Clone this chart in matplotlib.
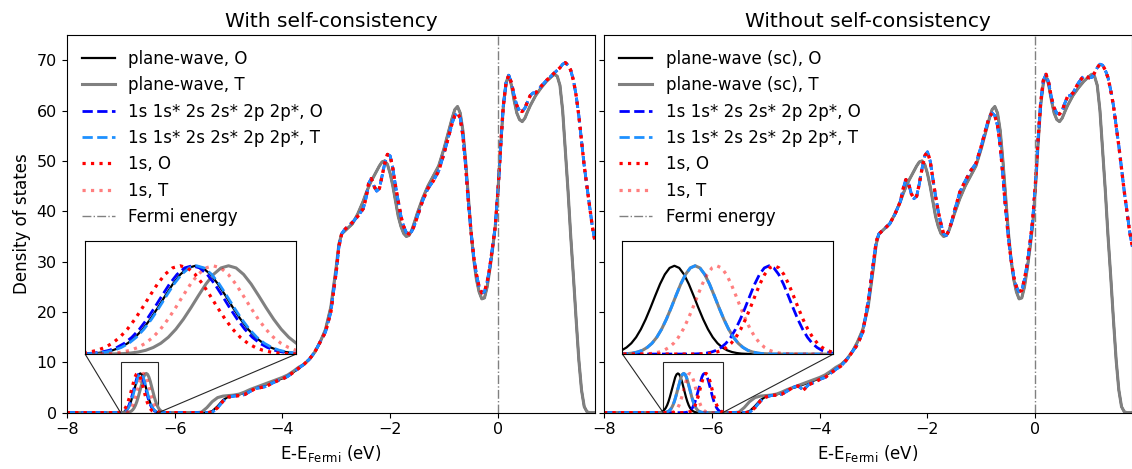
import numpy as np
import matplotlib.pyplot as plt
from mpl_toolkits.axes_grid1.inset_locator import mark_inset

# ---------------- data ----------------
# energy grid of the valence band part (eV, relative to Fermi)
band_E = [-5.6, -5.5, -5.4, -5.3, -5.2, -5.1, -5.0, -4.9, -4.8, -4.7,
          -4.6, -4.5, -4.4, -4.3, -4.2, -4.1, -4.0, -3.9, -3.8, -3.7,
          -3.6, -3.5, -3.4, -3.3, -3.2, -3.1, -3.0, -2.95, -2.9, -2.85,
          -2.8, -2.7, -2.6, -2.5, -2.45, -2.4, -2.35, -2.3, -2.25, -2.2,
          -2.15, -2.1, -2.05, -2.0, -1.95, -1.9, -1.85, -1.8, -1.75, -1.7,
          -1.65, -1.6, -1.55, -1.5, -1.4, -1.3, -1.2, -1.1, -1.0, -0.9,
          -0.85, -0.8, -0.75, -0.7, -0.65, -0.6, -0.55, -0.5, -0.45, -0.4,
          -0.35, -0.3, -0.25, -0.2, -0.15, -0.1, -0.05, 0.0, 0.05, 0.1,
          0.15, 0.2, 0.25, 0.3, 0.35, 0.4, 0.45, 0.5, 0.55, 0.6,
          0.65, 0.7, 0.8, 0.9, 1.0, 1.05, 1.1, 1.15, 1.2, 1.25,
          1.3, 1.35, 1.4, 1.45, 1.5, 1.55, 1.6, 1.65, 1.7, 1.75,
          1.8]

# plane-wave, O
band_pw_O = [0, 0, 0, 0.3, 1.3, 2.5, 3.2, 3.4, 3.6, 4.0,
             4.5, 4.9, 5.2, 5.6, 6.0, 6.4, 6.8, 7.3, 8.0, 8.8,
             9.6, 10.6, 12.0, 14.0, 16.5, 21.0, 29.0, 33.5, 35.5, 36.0,
             36.5, 37.5, 39.5, 42.0, 43.5, 44.8, 46.0, 47.0, 48.0, 49.0,
             49.8, 50.0, 49.3, 47.5, 45.0, 42.0, 39.0, 37.0, 35.6, 35.0,
             35.2, 36.2, 37.8, 39.5, 42.5, 45.0, 47.0, 49.0, 52.5, 56.5,
             58.5, 60.2, 60.8, 59.5, 56.0, 50.0, 43.0, 36.0, 30.5, 26.5,
             24.0, 22.6, 22.8, 25.0, 28.5, 32.5, 37.0, 44.0, 53.0, 61.0,
             65.5, 67.0, 65.0, 62.0, 59.5, 58.2, 57.8, 58.5, 59.8, 61.0,
             62.0, 63.0, 64.5, 65.8, 66.8, 67.2, 66.8, 65.0, 60.0, 52.0,
             44.0, 35.0, 27.0, 18.5, 10.5, 4.5, 1.2, 0.2, 0, 0,
             0]
# plane-wave, T (earlier onset, otherwise same as O)
band_pw_T = [0, 0.1, 1.0, 2.2, 3.0, 3.3, 3.4, 3.5, 3.7, 4.1,
             4.6, 5.0, 5.4, 5.8, 6.2, 6.6, 7.0, 7.5, 8.2, 9.0] + band_pw_O[20:]

# local basis, with self-consistency
band_sc = [0, 0, 0, 0.1, 1.0, 2.3, 3.1, 3.3, 3.4, 3.6,
           4.2, 4.8, 5.0, 5.2, 5.8, 6.3, 6.7, 7.2, 8.0, 8.8,
           9.6, 10.6, 12.0, 14.0, 16.0, 20.0, 28.0, 33.0, 35.5, 36.3,
           36.8, 37.8, 39.0, 40.5, 42.5, 45.5, 46.5, 45.0, 44.0, 44.5,
           47.0, 49.5, 51.3, 51.0, 48.5, 45.0, 42.0, 39.0, 37.0, 35.8,
           35.5, 36.0, 37.2, 38.8, 42.0, 44.5, 46.0, 48.0, 51.5, 55.5,
           57.5, 59.0, 59.5, 58.5, 55.0, 49.0, 42.0, 36.0, 31.0, 27.5,
           25.0, 23.8, 24.0, 26.0, 29.0, 33.0, 37.0, 44.0, 53.0, 61.0,
           65.5, 67.0, 65.5, 63.0, 61.0, 60.0, 59.8, 60.5, 61.8, 63.0,
           63.5, 63.5, 64.8, 66.0, 67.0, 67.5, 68.0, 68.5, 69.2, 69.5,
           69.0, 68.0, 66.0, 63.0, 59.0, 54.0, 49.0, 45.0, 41.0, 37.0,
           34.0]

# local basis, without self-consistency
band_nsc = [0, 0, 0, 0.1, 1.0, 2.3, 3.1, 3.4, 3.5, 3.7,
            4.3, 5.0, 5.3, 4.5, 5.6, 6.0, 6.6, 7.0, 7.8, 8.6,
            9.3, 10.5, 12.0, 13.5, 16.0, 22.0, 30.0, 34.0, 35.5, 36.0,
            36.5, 37.5, 39.5, 42.0, 44.5, 46.3, 45.5, 43.5, 42.5, 43.0,
            45.5, 48.5, 51.0, 51.8, 50.0, 46.5, 43.0, 40.0, 37.5, 35.5,
            35.2, 36.2, 38.0, 40.0, 43.8, 46.0, 48.0, 49.5, 53.0, 57.0,
            58.8, 59.5, 59.0, 57.0, 53.0, 47.0, 40.5, 35.0, 30.5, 27.0,
            25.0, 24.0, 24.3, 26.5, 29.5, 33.5, 38.0, 45.0, 54.0, 61.5,
            66.0, 67.2, 65.5, 62.5, 60.5, 59.5, 59.3, 60.0, 61.5, 62.8,
            63.0, 63.5, 65.5, 66.9, 66.5, 66.6, 67.5, 68.5, 69.2, 69.0,
            68.0, 66.5, 64.0, 61.0, 57.0, 53.0, 48.5, 44.0, 40.0, 36.0,
            33.0]

# shape of the isolated low-lying peak (offset from its centre, DOS)
peak_dx = [-0.4, -0.35, -0.325, -0.3, -0.275, -0.25, -0.225, -0.2, -0.175, -0.15,
           -0.125, -0.1, -0.075, -0.05, -0.025, 0.0, 0.025, 0.05, 0.075, 0.1,
           0.125, 0.15, 0.175, 0.2, 0.225, 0.25, 0.275, 0.3, 0.325, 0.35, 0.4]
peak_dos = [0.01, 0.05, 0.10, 0.19, 0.34, 0.59, 0.96, 1.49, 2.20, 3.08,
            4.09, 5.16, 6.19, 7.04, 7.61, 7.80, 7.61, 7.04, 6.19, 5.16,
            4.09, 3.08, 2.20, 1.49, 0.96, 0.59, 0.34, 0.19, 0.10, 0.05, 0.01]

# peak centres (eV) per series: pw O, pw T, basis O, basis T, 1s O, 1s T
centres_sc = [-6.634, -6.524, -6.645, -6.630, -6.685, -6.575]
centres_nsc = [-6.629, -6.521, -6.135, -6.521, -6.108, -6.408]

labels_sc = ['plane-wave, O', 'plane-wave, T',
             '1s 1s* 2s 2s* 2p 2p*, O', '1s 1s* 2s 2s* 2p 2p*, T',
             '1s, O', '1s, T']
labels_nsc = ['plane-wave (sc), O', 'plane-wave (sc), T',
              '1s 1s* 2s 2s* 2p 2p*, O', '1s 1s* 2s 2s* 2p 2p*, T',
              '1s, O', '1s, T']

styles = [dict(color='black', ls='-', lw=1.6),
          dict(color='grey', ls='-', lw=2.2),
          dict(color='blue', ls='--', lw=2.0),
          dict(color='dodgerblue', ls='--', lw=2.0),
          dict(color='red', ls=':', lw=2.3),
          dict(color='red', ls=':', lw=2.3, alpha=0.5)]


def series(centre, band):
    E = np.concatenate([[-8.0], centre + np.array(peak_dx), band_E])
    D = np.concatenate([[0.0], peak_dos, band])
    return E, D


def draw(ax, centres, bands, labels, xzoom):
    curves = [series(c, b) for c, b in zip(centres, bands)]
    for (E, D), lab, st in zip(curves, labels, styles):
        ax.plot(E, D, label=lab, **st)
    ax.axvline(0, color='grey', ls='-.', lw=1, label='Fermi energy')
    ax.set_xlim(-8, 1.8)
    ax.set_ylim(0, 75)
    ax.set_xlabel(r'E-E$_{\mathrm{Fermi}}$ (eV)', fontsize=12)
    ax.tick_params(labelsize=11.5)
    ax.legend(loc='upper left', frameon=False, fontsize=12)

    axins = ax.inset_axes([0.035, 0.155, 0.399, 0.30])
    for (E, D), st in zip(curves, styles):
        axins.plot(E, D, **st)
    axins.set_xlim(*xzoom)
    axins.set_ylim(0, 10)
    axins.set_xticks([])
    axins.set_yticks([])
    mark_inset(ax, axins, loc1=3, loc2=4, fc='none', ec='0.15', lw=0.8)


fig = plt.figure(figsize=(11.32, 4.69), dpi=100)
ax1 = fig.add_axes([66.7 / 1132, 56.3 / 469, 528.3 / 1132, 377.7 / 469])
ax2 = fig.add_axes([604 / 1132, 56.3 / 469, 528.3 / 1132, 377.7 / 469], sharey=ax1)

draw(ax1, centres_sc, [band_pw_O, band_pw_T, band_sc, band_sc, band_sc, band_sc],
     labels_sc, (-7.0, -6.3))
draw(ax2, centres_nsc, [band_pw_O, band_pw_T, band_nsc, band_nsc, band_nsc, band_nsc],
     labels_nsc, (-6.9, -5.8))

ax1.set_ylabel('Density of states', fontsize=12)
ax2.tick_params(labelleft=False)
ax1.set_title('With self-consistency', fontsize=14.5)
ax2.set_title('Without self-consistency', fontsize=14.5)

fig.savefig('out.png', dpi=100)
